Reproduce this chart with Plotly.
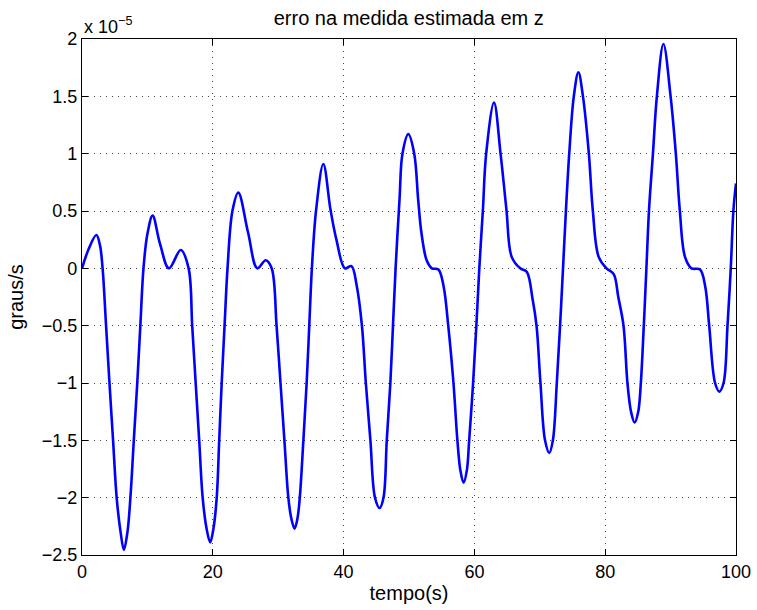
import plotly.graph_objects as go

# time (s) and error (units of 1e-5 graus/s)
tempo = [0, 1.1, 2.2, 2.75, 3.15, 3.68, 4.2, 4.75, 5.3, 5.9, 6.4, 6.95, 7.4, 7.92, 8.45, 8.92, 9.4, 10.0, 10.8,
         11.9, 13.3, 15.1, 16.3, 16.85, 17.38, 17.92, 18.45, 19.05, 19.6, 20.1, 20.6, 20.98, 21.36, 21.8,
         22.25, 23.0, 23.9,
         25.4, 26.8, 28.1, 29.0, 29.75, 30.35, 30.95, 31.55, 32.0, 32.5, 32.95, 33.3, 33.85, 34.35, 34.75,
         35.15, 35.8, 36.9,
         38.0, 38.9, 40.2, 41.2, 42.0, 42.8, 43.4, 44.1, 44.8, 45.5, 46.1, 46.6, 47.15, 47.55, 47.95,
         48.55, 49.0, 49.9,
         50.8, 51.4, 51.9, 52.7, 53.5, 54.5, 55.3, 56.0, 56.8, 57.4, 57.85, 58.35, 58.85, 59.2, 59.8,
         60.3, 60.75, 61.3, 61.8, 63.0,
         64.0, 64.9, 65.7, 67.0, 68.0, 68.9, 69.5, 70.1, 70.8, 71.45, 72.0, 72.6, 73.1, 73.55, 74.0,
         74.5, 75.2, 75.9,
         76.6, 77.5, 78.1, 79.0, 80.2, 81.3, 82.0, 82.8, 83.4, 83.95, 84.5, 85.05, 85.45, 85.9, 86.3,
         86.7, 87.3, 87.9, 88.9,
         90.0, 90.8, 91.4, 92.2, 93.2, 94.5, 95.3, 95.9, 96.8, 97.45, 98.1, 98.7, 99.2, 99.6, 100]
erro = [0, 0.18, 0.29, 0.2, 0.0, -0.5, -1.0, -1.5, -2.0, -2.3, -2.455, -2.3, -2.0, -1.5, -1.0, -0.5, 0.0, 0.3, 0.46,
        0.22, 0.0, 0.16, 0.0, -0.5, -1.0, -1.5, -2.0, -2.27, -2.39, -2.27, -2.0, -1.5, -1.0, -0.5,
        0.0, 0.5, 0.66,
        0.31, 0.0, 0.07, 0.0, -0.5, -1.0, -1.5, -2.0, -2.18, -2.27, -2.18, -2.0, -1.5, -1.0, -0.5,
        0.0, 0.51, 0.91,
        0.51, 0.25, 0.0, 0.02, -0.15, -0.5, -1.0, -1.5, -2.0, -2.09, -2.0, -1.5, -1.0, -0.5, 0.0,
        0.6, 1.0, 1.17,
        1.0, 0.6, 0.31, 0.07, 0.0, -0.01, -0.16, -0.5, -1.0, -1.5, -1.76, -1.87, -1.76, -1.5, -1.0,
        -0.5, 0.0, 0.51, 1.0, 1.445,
        1.0, 0.51, 0.1, 0.0, -0.03, -0.27, -0.5, -1.0, -1.5, -1.61, -1.5, -1.0, -0.5, 0.0, 0.51,
        1.0, 1.5, 1.71,
        1.5, 1.0, 0.51, 0.1, 0.0, -0.05, -0.25, -0.5, -1.0, -1.25, -1.345, -1.25, -1.0, -0.5, 0.0,
        0.51, 1.0, 1.5, 1.956,
        1.5, 1.0, 0.51, 0.1, 0.0, -0.01, -0.16, -0.5, -1.0, -1.075, -1.0, -0.5, 0.0, 0.5, 0.74]

x_ticks = [0, 20, 40, 60, 80, 100]
y_ticks = [-2.5, -2, -1.5, -1, -0.5, 0, 0.5, 1, 1.5, 2]
y_ticktext = ["\u22122.5", "\u22122", "\u22121.5", "\u22121", "\u22120.5", "0", "0.5", "1", "1.5", "2"]
scale = 1e-5

y = [v * scale for v in erro]
yt = [v * scale for v in y_ticks]

FONT = "Liberation Sans, Arial, Helvetica, sans-serif"

fig = go.Figure()
fig.add_trace(go.Scatter(x=tempo, y=y, mode="lines",
                         line=dict(color="#0000ff", width=2.6, shape="spline", smoothing=1.0),
                         showlegend=False, hoverinfo="skip"))

axis_common = dict(showline=True, linecolor="black", linewidth=1.3, mirror="ticks",
                   ticks="inside", ticklen=6, tickcolor="black", tickwidth=1,
                   showgrid=True, gridcolor="#444444", griddash="1px,5px", gridwidth=1,
                   zeroline=False, tickfont=dict(family=FONT, size=18, color="black"))

fig.update_layout(
    width=757, height=610,
    margin=dict(l=82, r=21, t=39, b=55, autoexpand=False),
    paper_bgcolor="white", plot_bgcolor="white",
    font=dict(family=FONT, size=18, color="black"),
    title=dict(text="erro na medida estimada em z", x=0.54, xanchor="center",
               y=1 - 18 / 610, yanchor="middle", yref="container",
               font=dict(family=FONT, size=20, color="black")),
    xaxis=dict(range=[0, 100], tickvals=x_ticks, ticktext=[str(t) for t in x_ticks],
               title=dict(text="tempo(s)", standoff=5, font=dict(family=FONT, size=20)),
               **axis_common),
    yaxis=dict(range=[-2.5 * scale, 2 * scale], tickvals=yt, ticktext=y_ticktext,
               title=dict(text="graus/s", standoff=12, font=dict(family=FONT, size=20)),
               **axis_common),
    annotations=[dict(text="x 10<sup>\u22125</sup>", x=0, xref="paper", y=1, yref="paper",
                      xanchor="left", yanchor="bottom", showarrow=False,
                      font=dict(family=FONT, size=18, color="black"))],
)

fig.write_html("out.html")
